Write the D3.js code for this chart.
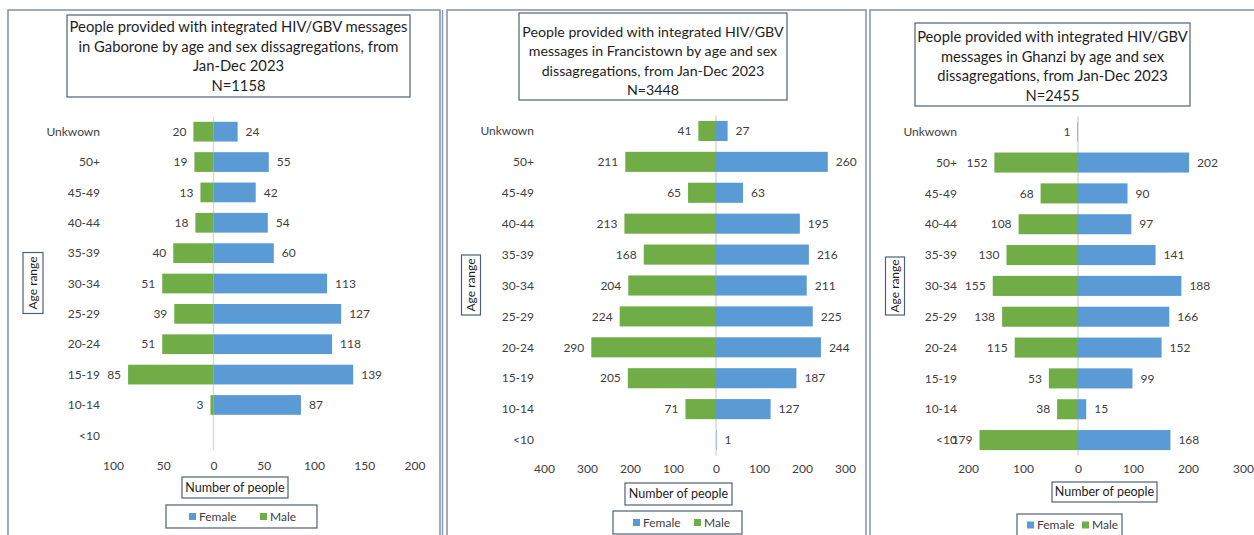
<!DOCTYPE html>
<html>
<head>
<meta charset="utf-8">
<script src="https://cdn.jsdelivr.net/npm/d3@7"></script>
<style>
  html, body { margin: 0; padding: 0; background: #fff; }
  svg { display: block; font-family: Lato, "Open Sans", sans-serif; }
</style>
</head>
<body>
<svg id="chart" width="1254" height="535"></svg>
<script>
// Age groups, top to bottom
const ageGroups = ["Unkwown", "50+", "45-49", "40-44", "35-39", "30-34", "25-29", "20-24", "15-19", "10-14", "<10"];

// Gaborone (N=1158); null = no entry
const gaboroneMale   = [20, 19, 13, 18, 40, 51, 39, 51, 85, 3, null];
const gaboroneFemale = [24, 55, 42, 54, 60, 113, 127, 118, 139, 87, null];
const gaboroneTicks  = [-100, -50, 0, 50, 100, 150, 200];

// Francistown (N=3448)
const francistownMale   = [41, 211, 65, 213, 168, 204, 224, 290, 205, 71, null];
const francistownFemale = [27, 260, 63, 195, 216, 211, 225, 244, 187, 127, 1];
const francistownTicks  = [-400, -300, -200, -100, 0, 100, 200, 300];

// Ghanzi (N=2455)
const ghanziMale   = [1, 152, 68, 108, 130, 155, 138, 115, 53, 38, 179];
const ghanziFemale = [null, 202, 90, 97, 141, 188, 166, 152, 99, 15, 168];
const ghanziTicks  = [-200, -100, 0, 100, 200, 300];

const gaboroneTitle    = ["People provided with integrated HIV/GBV messages", "in Gaborone by age and sex dissagregations, from", "Jan-Dec 2023", "N=1158"];
const francistownTitle = ["People provided with integrated HIV/GBV", "messages in Francistown by age and sex", "dissagregations, from Jan-Dec 2023", "N=3448"];
const ghanziTitle      = ["People provided with integrated HIV/GBV", "messages in Ghanzi by age and sex", "dissagregations, from Jan-Dec 2023", "N=2455"];

const seriesNames = ["Female", "Male"];

const FEMALE = "#5B9BD5", MALE = "#70AD47";
const BORDER = "#8796AE", BOX = "#4F5F78", TEXT = "#404040";

const svg = d3.select("#chart");

const panels = [
  { frame: [8, 10, 432, 540], title: gaboroneTitle, titleBox: [67, 15, 343, 82], titleY: 27, titleSize: 14.8,
    male: gaboroneMale, female: gaboroneFemale, ticks: gaboroneTicks,
    xRange: [113, 414.5], yRange: [116.5, 450.5], labelX: 100, tickY: 467,
    ageBox: [33, 283, 20, 61], numBox: [182, 477, 106, 21],
    legend: [166, 505, 151, 23], legendItems: [189, 260] },
  { frame: [447, 10, 419, 540], title: francistownTitle, titleBox: [519, 13, 268, 87], titleY: 32, titleSize: 14.2,
    male: francistownMale, female: francistownFemale, ticks: francistownTicks,
    xRange: [544, 845], yRange: [115.5, 455.5], labelX: 534, tickY: 470,
    ageBox: [471, 285, 19, 60], numBox: [625, 483, 107, 22],
    legend: [613, 511, 129, 23], legendItems: [633, 694] },
  { frame: [870, 10, 400, 540], title: ghanziTitle, titleBox: [915, 23, 275, 83], titleY: 37, titleSize: 14.7,
    male: ghanziMale, female: ghanziFemale, ticks: ghanziTicks,
    xRange: [968, 1243], yRange: [116.3, 455.5], labelX: 957, tickY: 470,
    ageBox: [895, 286, 19, 58], numBox: [1052, 482, 105, 20],
    legend: [1017, 514, 105, 22], legendItems: [1027, 1082] }
];

panels.forEach(p => {
  const g = svg.append("g");

  // panel frame
  g.append("rect")
    .attr("x", p.frame[0]).attr("y", p.frame[1])
    .attr("width", p.frame[2]).attr("height", p.frame[3])
    .attr("fill", "#fff").attr("stroke", BORDER).attr("stroke-width", 1.6);

  // title
  g.append("rect")
    .attr("x", p.titleBox[0]).attr("y", p.titleBox[1])
    .attr("width", p.titleBox[2]).attr("height", p.titleBox[3])
    .attr("fill", "#fff").attr("stroke", BOX).attr("stroke-width", 1.2);
  const cx = p.titleBox[0] + p.titleBox[2] / 2;
  g.append("g").selectAll("text").data(p.title).join("text")
    .attr("x", cx).attr("y", (d, i) => p.titleY + i * 19.5)
    .attr("dy", "0.35em").attr("text-anchor", "middle")
    .attr("font-size", p.titleSize).attr("fill", "#1e1e1e").text(d => d);

  // scales
  const x = d3.scaleLinear()
    .domain([p.ticks[0], p.ticks[p.ticks.length - 1]])
    .range(p.xRange);
  const y = d3.scaleBand().domain(ageGroups).range(p.yRange)
    .paddingInner(0.35).paddingOuter(0.175);

  const rows = ageGroups.map((a, i) => ({ age: a, male: p.male[i], female: p.female[i] }));

  // zero line
  g.append("line")
    .attr("x1", x(0)).attr("x2", x(0))
    .attr("y1", p.yRange[0]).attr("y2", p.yRange[1])
    .attr("stroke", "#d9d9d9").attr("stroke-width", 1.5);

  // male bars (left of zero)
  g.append("g").selectAll("rect").data(rows.filter(r => r.male != null)).join("rect")
    .attr("x", d => x(-d.male)).attr("y", d => y(d.age))
    .attr("width", d => x(0) - x(-d.male)).attr("height", y.bandwidth())
    .attr("fill", MALE);

  // female bars (right of zero)
  g.append("g").selectAll("rect").data(rows.filter(r => r.female != null)).join("rect")
    .attr("x", x(0)).attr("y", d => y(d.age))
    .attr("width", d => x(d.female) - x(0)).attr("height", y.bandwidth())
    .attr("fill", FEMALE);

  // value labels
  g.append("g").selectAll("text").data(rows.filter(r => r.male != null)).join("text")
    .attr("x", d => x(-d.male) - 7).attr("y", d => y(d.age) + y.bandwidth() / 2)
    .attr("dy", "0.35em").attr("text-anchor", "end")
    .attr("font-size", 12).attr("fill", TEXT).text(d => d.male);
  g.append("g").selectAll("text").data(rows.filter(r => r.female != null)).join("text")
    .attr("x", d => x(d.female) + 8).attr("y", d => y(d.age) + y.bandwidth() / 2)
    .attr("dy", "0.35em").attr("text-anchor", "start")
    .attr("font-size", 12).attr("fill", TEXT).text(d => d.female);

  // category labels
  g.append("g").selectAll("text").data(ageGroups).join("text")
    .attr("x", p.labelX).attr("y", d => y(d) + y.bandwidth() / 2)
    .attr("dy", "0.35em").attr("text-anchor", "end")
    .attr("font-size", 12).attr("fill", TEXT).text(d => d);

  // x axis (absolute values on both sides)
  const ax = g.append("g").attr("transform", `translate(0,${p.tickY - 6})`)
    .call(d3.axisBottom(x).tickValues(p.ticks).tickFormat(d => Math.abs(d)).tickSize(0).tickPadding(0));
  ax.select(".domain").remove();
  ax.selectAll("text").attr("font-size", 12).attr("fill", TEXT)
    .attr("font-family", "Lato, 'Open Sans', sans-serif").attr("dy", "0.71em");

  // axis titles
  const [ax0, ay0, aw, ah] = p.ageBox;
  g.append("rect").attr("x", ax0 - aw / 2).attr("y", ay0 - ah / 2)
    .attr("width", aw).attr("height", ah)
    .attr("fill", "#fff").attr("stroke", BOX).attr("stroke-width", 1.2);
  g.append("text").attr("transform", `translate(${ax0},${ay0}) rotate(-90)`)
    .attr("dy", "0.35em").attr("text-anchor", "middle")
    .attr("font-size", 12).attr("fill", "#1e1e1e").text("Age range");

  const [nx, ny, nw, nh] = p.numBox;
  g.append("rect").attr("x", nx).attr("y", ny).attr("width", nw).attr("height", nh)
    .attr("fill", "#fff").attr("stroke", BOX).attr("stroke-width", 1.2);
  g.append("text").attr("x", nx + nw / 2).attr("y", ny + nh / 2)
    .attr("dy", "0.35em").attr("text-anchor", "middle")
    .attr("font-size", 12.5).attr("fill", "#1e1e1e").text("Number of people");

  // legend
  const [lx, ly, lw, lh] = p.legend;
  g.append("rect").attr("x", lx).attr("y", ly).attr("width", lw).attr("height", lh)
    .attr("fill", "#fff").attr("stroke", BOX).attr("stroke-width", 1.2);
  const colors = [FEMALE, MALE];
  const items = g.append("g").selectAll("g").data(seriesNames).join("g")
    .attr("transform", (d, i) => `translate(${p.legendItems[i]},${ly + lh / 2})`);
  items.append("rect").attr("x", 0).attr("y", -3.5).attr("width", 7).attr("height", 7)
    .attr("fill", (d, i) => colors[i]);
  items.append("text").attr("x", 10).attr("dy", "0.35em")
    .attr("font-size", 12).attr("fill", TEXT).text(d => d);
});

// inner edge of the first panel's double border
svg.append("line").attr("x1", 442.5).attr("x2", 442.5).attr("y1", 10).attr("y2", 535)
  .attr("stroke", BORDER).attr("stroke-width", 1.4);
</script>
</body>
</html>
